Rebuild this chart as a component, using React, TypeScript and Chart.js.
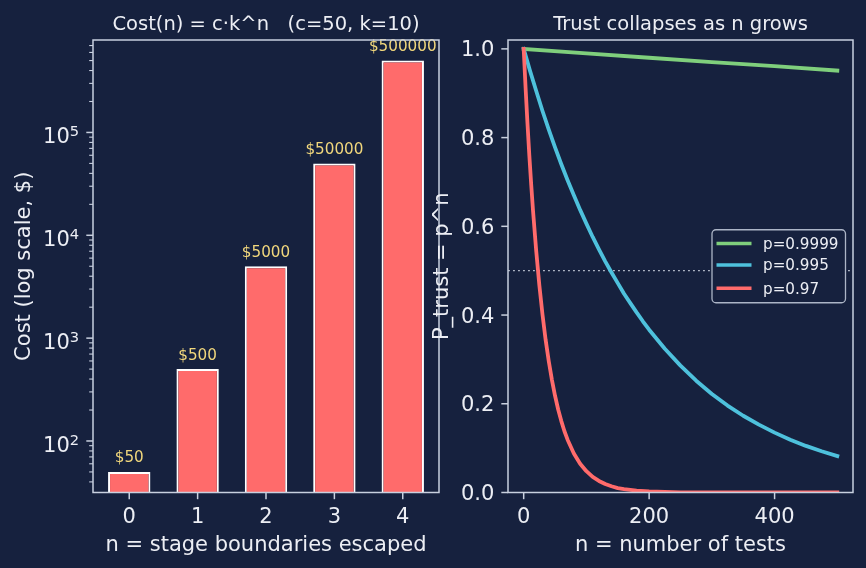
import React, { useEffect, useRef } from 'react';
import { Chart, registerables } from 'chart.js';

Chart.register(...registerables);

const BG = '#16213e';
const SPINE = '#c8d0df';
const TEXT = '#eceef4';
const GOLD = '#f1d77c';
const BAR = '#ff6b6b';
const FONT = '"DejaVu Sans", "Liberation Sans", sans-serif';

// ---- left panel data ----
const STAGES = [0, 1, 2, 3, 4];
const STAGE_TICK_LABELS = ['0', '1', '2', '3', '4'];
const COSTS = [50, 500, 5000, 50000, 500000];
const COST_LABELS = ['$50', '$500', '$5000', '$50000', '$500000'];
const COST_MAJOR_TICKS = [100, 1000, 10000, 100000];
const COST_MAJOR_EXPONENTS = ['2', '3', '4', '5'];
const COST_MINOR_MULTIPLIERS = [2, 3, 4, 5, 6, 7, 8, 9];
const COST_MINOR_DECADES = [10, 100, 1000, 10000, 100000];
const COST_MIN = 31.55;
const COST_MAX = 792500;

// ---- right panel data ----
const TESTS_TICKS = [0, 200, 400];
const TESTS_TICK_LABELS = ['0', '200', '400'];
const TRUST_TICKS = [0, 0.2, 0.4, 0.6, 0.8, 1.0];
const TRUST_TICK_LABELS = ['0.0', '0.2', '0.4', '0.6', '0.8', '1.0'];

const N_HIGH = [0, 100, 200, 300, 400, 500];
const P_HIGH = [1, 0.99, 0.98, 0.97, 0.961, 0.951];
const N_MID = [0, 10, 20, 30, 40, 50, 60, 70, 80, 90, 100, 110, 120, 130, 140, 150, 160, 170, 180, 190, 200, 225, 250, 275, 300, 325, 350, 375, 400, 425, 450, 475, 500];
const P_MID = [1, 0.951, 0.905, 0.86, 0.818, 0.778, 0.74, 0.704, 0.67, 0.637, 0.606, 0.576, 0.548, 0.521, 0.496, 0.472, 0.448, 0.427, 0.406, 0.386, 0.367, 0.324, 0.286, 0.252, 0.222, 0.196, 0.173, 0.153, 0.135, 0.119, 0.105, 0.093, 0.082];
const N_LOW = [0, 3, 6, 9, 12, 15, 20, 25, 30, 35, 40, 45, 50, 55, 60, 65, 70, 80, 90, 100, 110, 120, 130, 140, 150, 160, 180, 200, 250, 300, 400, 500];
const P_LOW = [1, 0.913, 0.833, 0.760, 0.694, 0.633, 0.544, 0.467, 0.401, 0.344, 0.296, 0.254, 0.218, 0.187, 0.161, 0.138, 0.119, 0.088, 0.065, 0.048, 0.035, 0.026, 0.019, 0.014, 0.01, 0.0077, 0.0042, 0.0023, 0.0005, 0.0001, 0, 0];
const SERIES_LABELS = ['p=0.9999', 'p=0.995', 'p=0.97'];
const SERIES_COLORS = ['#7fcf7c', '#4ec1dc', '#ff6b6b'];
const THRESHOLD = 0.5;

const pts = (xs: number[], ys: number[]) => xs.map((x, i) => ({ x, y: ys[i] }));

function seg(ctx: CanvasRenderingContext2D, x1: number, y1: number, x2: number, y2: number, w: number) {
  ctx.lineWidth = w;
  ctx.beginPath();
  ctx.moveTo(x1, y1);
  ctx.lineTo(x2, y2);
  ctx.stroke();
}

const leftDecor = {
  id: 'leftDecor',
  afterDraw(chart: any) {
    const { ctx, chartArea: ca, scales } = chart;
    const xs = scales.x;
    const ys = scales.y;
    ctx.save();
    ctx.fillStyle = GOLD;
    ctx.font = `15.2px ${FONT}`;
    ctx.textAlign = 'center';
    ctx.textBaseline = 'alphabetic';
    STAGES.forEach((v, i) => {
      const px = xs.getPixelForValue(v);
      const py = ys.getPixelForValue(COSTS[i]);
      ctx.fillText(COST_LABELS[i], px, py - 9.5);
    });
    ctx.strokeStyle = SPINE;
    ctx.lineWidth = 1.5;
    ctx.strokeRect(ca.left, ca.top, ca.right - ca.left, ca.bottom - ca.top);
    ctx.fillStyle = TEXT;
    ctx.font = `21px ${FONT}`;
    ctx.textAlign = 'center';
    STAGES.forEach((v, i) => {
      const px = xs.getPixelForValue(v);
      seg(ctx, px, ca.bottom, px, ca.bottom + 6.7, 1.5);
      ctx.fillText(STAGE_TICK_LABELS[i], px, ca.bottom + 30);
    });
    COST_MINOR_DECADES.forEach((d) => {
      COST_MINOR_MULTIPLIERS.forEach((m) => {
        const v = d * m;
        if (v < COST_MIN || v > COST_MAX) return;
        const py = ys.getPixelForValue(v);
        seg(ctx, ca.left - 3.8, py, ca.left, py, 1.1);
      });
    });
    COST_MAJOR_TICKS.forEach((v, i) => {
      const py = ys.getPixelForValue(v);
      seg(ctx, ca.left - 6.7, py, ca.left, py, 1.5);
      ctx.font = `21px ${FONT}`;
      ctx.textAlign = 'right';
      ctx.fillText('10', ca.left - 23.2, py + 11);
      ctx.font = `14.7px ${FONT}`;
      ctx.textAlign = 'left';
      ctx.fillText(COST_MAJOR_EXPONENTS[i], ca.left - 23.2, py + 4);
    });
    const cx = (ca.left + ca.right) / 2;
    const cy = (ca.top + ca.bottom) / 2;
    ctx.font = `21px ${FONT}`;
    ctx.textAlign = 'center';
    ctx.fillText('n = stage boundaries escaped', cx, 550.5);
    ctx.save();
    ctx.translate(29.5, cy);
    ctx.rotate(-Math.PI / 2);
    ctx.fillText('Cost (log scale, $)', 0, 0);
    ctx.restore();
    ctx.font = `19.5px ${FONT}`;
    ctx.fillText('Cost(n) = c\u00b7k^n   (c=50, k=10)', cx, 30);
    ctx.restore();
  },
};

const rightDecor = {
  id: 'rightDecor',
  beforeDatasetsDraw(chart: any) {
    const { ctx, chartArea: ca, scales } = chart;
    const py = scales.y.getPixelForValue(THRESHOLD);
    ctx.save();
    ctx.strokeStyle = 'rgba(215,221,232,0.8)';
    ctx.setLineDash([1.9, 3.1]);
    seg(ctx, ca.left, py, ca.right, py, 1.3);
    ctx.restore();
  },
  afterDraw(chart: any) {
    const { ctx, chartArea: ca, scales } = chart;
    const xs = scales.x;
    const ys = scales.y;
    ctx.save();
    ctx.strokeStyle = SPINE;
    ctx.lineWidth = 1.5;
    ctx.strokeRect(ca.left, ca.top, ca.right - ca.left, ca.bottom - ca.top);
    ctx.fillStyle = TEXT;
    ctx.font = `21px ${FONT}`;
    ctx.textBaseline = 'alphabetic';
    ctx.textAlign = 'center';
    TESTS_TICKS.forEach((v, i) => {
      const px = xs.getPixelForValue(v);
      seg(ctx, px, ca.bottom, px, ca.bottom + 6.7, 1.5);
      ctx.fillText(TESTS_TICK_LABELS[i], px, ca.bottom + 30);
    });
    ctx.textAlign = 'right';
    TRUST_TICKS.forEach((v, i) => {
      const py = ys.getPixelForValue(v);
      seg(ctx, ca.left - 6.7, py, ca.left, py, 1.5);
      ctx.fillText(TRUST_TICK_LABELS[i], ca.left - 13.6, py + 7.6);
    });
    const cx = (ca.left + ca.right) / 2;
    const cy = (ca.top + ca.bottom) / 2;
    ctx.textAlign = 'center';
    ctx.fillText('n = number of tests', cx, 550.5);
    ctx.save();
    ctx.translate(27.5, cy);
    ctx.rotate(-Math.PI / 2);
    ctx.fillText('P_trust = p^n', 0, 0);
    ctx.restore();
    ctx.font = `19.5px ${FONT}`;
    ctx.fillText('Trust collapses as n grows', cx, 30);

    const boxW = 133.5;
    const boxH = 73;
    const bx = ca.right - 7.5 - boxW;
    const by = cy - boxH / 2;
    ctx.beginPath();
    if ((ctx as any).roundRect) (ctx as any).roundRect(bx, by, boxW, boxH, 4);
    else ctx.rect(bx, by, boxW, boxH);
    ctx.fillStyle = BG;
    ctx.fill();
    ctx.strokeStyle = 'rgba(200,208,223,0.85)';
    ctx.lineWidth = 1.3;
    ctx.stroke();
    const rows = [-22.7, -1.3, 22.0];
    ctx.font = `15.2px ${FONT}`;
    ctx.textAlign = 'left';
    chart.data.datasets.forEach((ds: any, i: number) => {
      const ry = cy + rows[i];
      ctx.strokeStyle = ds.borderColor;
      seg(ctx, bx + 4.5, ry, bx + 39.5, ry, 3.6);
      ctx.fillStyle = TEXT;
      ctx.fillText(ds.label, bx + 51, ry + 5.5);
    });
    ctx.restore();
  },
};

const hiddenAxis = {
  ticks: { display: false },
  grid: { display: false },
  border: { display: false },
};

export default function App() {
  const leftRef = useRef<HTMLCanvasElement>(null);
  const rightRef = useRef<HTMLCanvasElement>(null);

  useEffect(() => {
    const left = new Chart(leftRef.current as HTMLCanvasElement, {
      type: 'bar',
      data: {
        datasets: [
          {
            data: pts(STAGES, COSTS),
            backgroundColor: BAR,
            borderColor: '#ffffff',
            borderWidth: 2,
            barPercentage: 0.62,
            categoryPercentage: 1,
          },
        ],
      },
      options: {
        responsive: false,
        animation: false,
        devicePixelRatio: 1,
        events: [],
        layout: { padding: { top: 40, right: 21, left: 0, bottom: 0 } },
        plugins: { legend: { display: false }, title: { display: false }, tooltip: { enabled: false } },
        scales: {
          x: {
            type: 'linear',
            min: -0.53,
            max: 4.53,
            offset: false,
            ...hiddenAxis,
            afterFit: (s: any) => {
              s.height = 75.5;
            },
          },
          y: {
            type: 'logarithmic',
            min: COST_MIN,
            max: COST_MAX,
            ...hiddenAxis,
            afterFit: (s: any) => {
              s.width = 93;
            },
          },
        },
      } as any,
      plugins: [leftDecor],
    });

    const right = new Chart(rightRef.current as HTMLCanvasElement, {
      type: 'line',
      data: {
        datasets: [
          { label: SERIES_LABELS[0], data: pts(N_HIGH, P_HIGH), borderColor: SERIES_COLORS[0], order: 3 },
          { label: SERIES_LABELS[1], data: pts(N_MID, P_MID), borderColor: SERIES_COLORS[1], order: 2 },
          { label: SERIES_LABELS[2], data: pts(N_LOW, P_LOW), borderColor: SERIES_COLORS[2], order: 1 },
        ],
      },
      options: {
        responsive: false,
        animation: false,
        devicePixelRatio: 1,
        events: [],
        layout: { padding: { top: 40, right: 13, left: 0, bottom: 0 } },
        elements: {
          point: { radius: 0 },
          line: { borderWidth: 3.8, tension: 0, borderCapStyle: 'square', borderJoinStyle: 'round', fill: false },
        },
        plugins: { legend: { display: false }, title: { display: false }, tooltip: { enabled: false } },
        scales: {
          x: {
            type: 'linear',
            min: -25,
            max: 525,
            ...hiddenAxis,
            afterFit: (s: any) => {
              s.height = 75.5;
            },
          },
          y: {
            type: 'linear',
            min: 0,
            max: 1.02,
            ...hiddenAxis,
            afterFit: (s: any) => {
              s.width = 88;
            },
          },
        },
      } as any,
      plugins: [rightDecor],
    });

    return () => {
      left.destroy();
      right.destroy();
    };
  }, []);

  return (
    <div style={{ position: 'fixed', left: 0, top: 0, width: 866, height: 568, background: BG, overflow: 'hidden' }}>
      <canvas ref={leftRef} width={460} height={568} style={{ position: 'absolute', left: 0, top: 0, width: 460, height: 568 }} />
      <canvas ref={rightRef} width={446} height={568} style={{ position: 'absolute', left: 420, top: 0, width: 446, height: 568 }} />
    </div>
  );
}
